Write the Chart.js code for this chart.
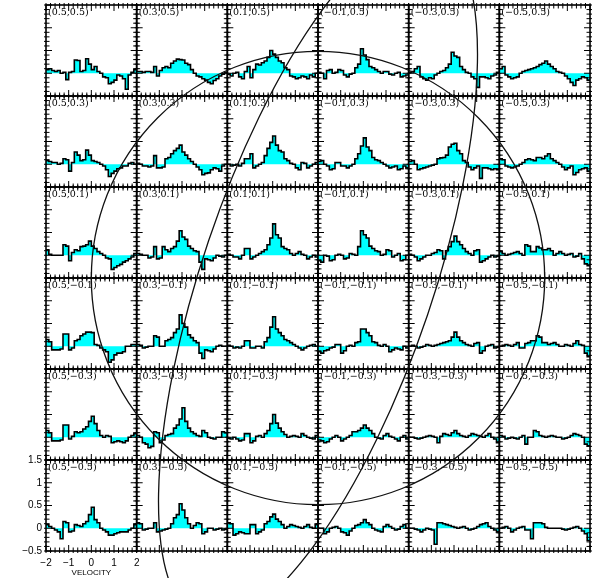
<!DOCTYPE html>
<html>
<head>
<meta charset="utf-8">
<script src="https://cdn.jsdelivr.net/npm/chart.js@4/dist/chart.umd.min.js"></script>
<style>
    body { margin: 0; background: #fff; }
    #grid { position: relative; width: 592px; height: 578px; }
    #grid canvas { position: absolute; left: 0; top: 0; }
</style>
</head>
<body>
<div id="grid"></div>
<script>
// channel edges (velocity), one more than the number of channels
const velocityEdges = [-2, -1.875, -1.75, -1.625, -1.5, -1.375, -1.25, -1.125, -1, -0.875, -0.75, -0.625, -0.5, -0.375, -0.25, -0.125,
    0, 0.125, 0.25, 0.375, 0.5, 0.625, 0.75, 0.875, 1, 1.125, 1.25, 1.375, 1.5, 1.625, 1.75, 1.875, 2]
const velocityTicks = [-2, -1, 0, 1, 2]
const intensityTicks = [-0.5, 0, 0.5, 1, 1.5]

// pointing offsets of the columns and rows
const offsetX = [0.5, 0.3, 0.1, -0.1, -0.3, -0.5]
const offsetY = [0.5, 0.3, 0.1, -0.1, -0.3, -0.5]

// spectra, one row of the map per array, columns in offsetX order
const spectraRow1 = [
    [0.08,0.1,0.06,0.04,0.06,0.0,0.02,-0.14,0.02,0.04,0.29,0.28,0.04,0.06,0.32,0.2,0.08,0.15,0.04,0.0,-0.08,-0.1,-0.23,-0.2,-0.15,-0.04,-0.06,-0.12,-0.35,-0.04,0.02,0.08],
    [0.04,0.04,0.02,0.04,0.04,0.02,0.15,-0.06,0.06,0.12,0.15,0.12,0.22,0.27,0.31,0.3,0.29,0.22,0.19,0.08,0.0,-0.06,-0.08,-0.12,-0.15,-0.2,-0.23,-0.16,-0.12,-0.06,-0.02,0.02],
    [-0.02,-0.06,0.0,0.02,-0.08,-0.12,0.04,0.15,-0.1,0.08,0.2,0.18,0.23,0.27,0.35,0.5,0.42,0.35,0.27,0.23,0.12,0.08,-0.06,-0.08,-0.12,-0.1,-0.06,-0.08,-0.12,-0.04,-0.08,0.0],
    [0.02,0.0,-0.12,0.06,0.08,0.0,0.02,0.08,0.06,-0.04,-0.08,-0.02,0.0,0.12,0.2,0.54,0.4,0.3,0.15,0.12,0.08,0.04,0.0,0.04,0.04,-0.02,-0.04,0.0,0.02,-0.08,-0.06,-0.04],
    [0.02,0.04,0.1,0.15,-0.08,-0.12,-0.15,-0.1,-0.12,-0.04,0.0,0.04,0.06,0.12,0.2,0.46,0.38,0.35,0.15,0.08,0.02,0.0,-0.08,-0.12,-0.31,-0.08,-0.08,-0.1,-0.12,-0.06,-0.04,0.02],
    [0.1,0.15,-0.04,-0.08,-0.12,-0.1,-0.08,0.0,0.04,0.06,0.08,0.1,0.12,0.15,0.19,0.22,0.27,0.2,0.15,0.1,0.04,0.02,0.0,-0.06,-0.12,-0.2,-0.27,-0.15,-0.12,-0.08,-0.1,-0.15]
]
const spectraRow2 = [
    [0.08,0.06,0.04,0.04,0.0,0.02,0.12,0.1,-0.15,0.04,0.27,0.2,0.08,0.1,0.31,0.2,0.08,0.06,0.04,0.0,-0.04,-0.12,-0.27,-0.2,-0.15,-0.1,-0.08,-0.04,-0.04,0.02,0.04,0.0],
    [0.02,0.0,-0.04,-0.04,-0.06,-0.04,0.19,-0.08,-0.08,-0.06,0.12,0.15,0.23,0.3,0.35,0.42,0.27,0.2,0.12,0.06,0.0,-0.06,-0.12,-0.23,-0.2,-0.19,-0.12,-0.08,-0.1,-0.15,-0.04,0.0],
    [0.0,-0.04,-0.02,0.0,-0.04,0.02,0.12,0.12,0.23,-0.08,-0.04,0.0,0.04,0.19,0.35,0.48,0.62,0.42,0.3,0.27,0.12,0.08,0.02,0.0,-0.08,-0.12,0.04,0.02,-0.08,-0.04,0.0,0.04],
    [0.06,0.08,0.0,-0.04,-0.12,-0.1,0.04,0.04,-0.04,-0.04,-0.08,-0.04,0.0,0.12,0.23,0.4,0.58,0.38,0.3,0.15,0.1,0.08,0.04,0.0,-0.04,-0.08,-0.06,-0.04,-0.12,-0.1,-0.04,-0.08],
    [0.06,0.08,0.0,-0.12,-0.1,-0.08,-0.06,-0.04,-0.02,0.0,0.12,0.14,0.15,0.2,0.38,0.44,0.46,0.3,0.23,0.08,0.04,-0.06,-0.12,-0.08,-0.04,-0.31,-0.08,-0.08,-0.1,-0.12,-0.1,-0.12],
    [0.12,0.1,-0.04,-0.06,-0.08,-0.06,-0.04,0.0,0.04,0.1,0.12,0.1,0.08,0.15,0.15,0.12,0.18,0.23,0.12,0.08,0.04,0.0,-0.06,-0.12,-0.08,-0.04,-0.23,-0.18,-0.12,-0.1,-0.08,-0.15]
]
const spectraRow3 = [
    [0.12,0.02,0.0,0.0,0.0,0.0,0.23,0.2,-0.12,0.06,0.12,0.1,0.19,0.2,0.23,0.31,0.2,0.15,0.08,0.04,0.0,-0.06,-0.08,-0.31,-0.27,-0.23,-0.2,-0.15,-0.12,-0.08,-0.04,0.04],
    [0.04,0.02,0.0,0.0,-0.06,-0.04,0.19,-0.08,-0.06,0.19,0.12,0.08,0.15,0.19,0.31,0.54,0.4,0.35,0.2,0.15,0.1,0.08,-0.15,-0.31,-0.08,-0.1,-0.12,-0.06,0.0,-0.02,-0.04,0.0],
    [0.02,0.0,-0.04,-0.04,-0.08,0.0,0.15,0.15,-0.08,-0.04,0.0,0.04,0.08,0.12,0.23,0.38,0.69,0.45,0.38,0.19,0.15,0.12,0.04,0.0,0.04,0.08,0.02,0.0,-0.08,-0.04,0.0,-0.04],
    [-0.12,-0.15,0.0,-0.02,-0.12,-0.1,0.0,0.02,0.0,-0.08,-0.06,0.04,0.02,0.0,0.19,0.54,0.45,0.38,0.2,0.15,0.1,0.08,0.0,0.02,0.12,0.1,-0.04,0.0,0.04,-0.12,-0.1,0.0],
    [0.02,0.0,-0.04,-0.12,-0.08,-0.04,0.0,0.0,0.04,0.06,0.12,0.1,-0.08,0.1,0.19,0.3,0.42,0.3,0.23,0.15,0.08,0.04,0.0,0.1,0.12,-0.15,-0.12,-0.08,-0.04,0.0,-0.04,-0.02],
    [0.08,0.04,0.0,0.02,0.04,0.06,0.08,0.04,0.0,0.23,0.2,0.08,0.08,0.19,0.16,0.12,0.12,0.15,0.1,0.0,0.04,0.08,0.04,0.0,0.02,0.04,-0.04,-0.02,0.04,-0.08,-0.19,-0.23]
]
const spectraRow4 = [
    [0.15,0.1,-0.08,-0.08,-0.08,-0.06,0.27,0.27,-0.08,-0.04,0.12,0.15,0.23,0.27,0.31,0.31,0.3,0.04,0.02,-0.04,-0.08,-0.12,-0.35,-0.3,-0.19,-0.15,-0.15,-0.12,0.0,0.0,0.04,0.04],
    [0.04,0.02,-0.04,-0.02,0.0,0.0,0.23,0.2,0.0,0.0,0.12,0.15,0.19,0.3,0.38,0.69,0.5,0.42,0.25,0.19,0.12,0.08,-0.15,-0.27,-0.08,-0.1,-0.12,-0.06,0.0,0.02,0.0,0.0],
    [0.02,0.0,-0.04,-0.02,-0.04,0.0,0.12,0.12,-0.04,-0.04,0.0,0.0,-0.04,0.1,0.19,0.42,0.65,0.38,0.3,0.23,0.15,0.12,0.08,0.04,0.0,-0.04,-0.08,-0.04,0.0,0.02,0.04,0.0],
    [-0.12,-0.15,-0.1,-0.08,-0.04,-0.02,0.04,0.04,-0.15,-0.1,0.0,0.02,0.0,0.08,0.1,0.38,0.38,0.3,0.23,0.1,0.08,0.02,0.0,0.04,0.0,-0.12,-0.08,-0.04,-0.06,-0.08,0.0,-0.04],
    [0.0,0.02,0.0,-0.04,-0.02,0.0,0.04,0.02,0.0,0.02,0.04,0.06,0.08,0.1,0.12,0.2,0.31,0.2,0.12,0.08,0.04,0.02,0.0,0.06,0.08,-0.15,-0.1,0.0,0.02,0.04,-0.04,-0.02],
    [0.0,0.02,0.04,0.02,0.0,0.04,0.08,-0.04,-0.04,0.06,0.08,0.12,0.12,0.23,0.2,0.08,0.08,0.04,0.06,0.08,0.04,0.0,0.0,0.04,0.02,0.0,0.06,0.12,0.04,0.02,-0.15,-0.23]
]
const spectraRow5 = [
    [0.15,0.1,-0.08,-0.08,-0.08,-0.06,0.27,0.27,-0.04,0.02,0.12,0.1,0.12,0.18,0.23,0.35,0.46,0.3,0.15,0.04,0.0,0.04,0.02,-0.12,-0.1,-0.08,-0.1,-0.12,-0.08,0.0,0.04,0.08],
    [0.04,0.0,-0.12,-0.15,-0.23,-0.2,0.12,0.1,-0.12,-0.06,0.04,0.06,0.08,0.2,0.27,0.4,0.65,0.35,0.2,0.12,0.08,0.04,0.02,0.15,0.1,0.0,-0.02,-0.04,0.0,0.0,0.12,0.1],
    [-0.02,-0.04,0.0,-0.04,-0.08,-0.06,0.08,0.08,-0.12,-0.08,0.02,0.04,0.0,0.08,0.15,0.3,0.5,0.31,0.2,0.12,0.06,0.0,0.02,0.04,0.02,0.0,0.08,0.04,0.0,-0.02,-0.04,0.04],
    [-0.06,-0.08,-0.12,-0.1,-0.04,0.0,0.04,0.0,-0.08,-0.04,0.0,0.04,0.12,0.12,0.15,0.2,0.27,0.2,0.15,0.08,0.0,-0.02,-0.04,0.04,0.08,0.02,0.0,-0.04,-0.08,0.0,0.04,-0.04],
    [0.0,0.0,-0.02,-0.04,-0.02,0.0,0.02,0.04,0.02,0.0,-0.12,0.02,0.08,0.06,0.04,0.1,0.15,0.08,0.04,0.02,0.0,0.04,0.08,0.06,0.04,0.02,0.0,0.04,0.08,0.0,-0.04,-0.12],
    [0.04,0.02,-0.04,-0.02,0.0,-0.02,-0.04,0.0,0.04,-0.15,0.0,0.0,0.15,0.12,0.04,0.02,0.0,0.02,0.04,0.02,0.0,0.0,-0.04,-0.02,0.0,0.04,0.08,0.06,0.04,0.0,-0.15,-0.19]
]
const spectraRow6 = [
    [0.08,0.04,0.0,-0.04,-0.08,-0.23,0.15,0.12,-0.08,-0.06,0.08,0.06,0.04,0.1,0.15,0.3,0.46,0.19,0.12,0.0,-0.04,-0.08,-0.15,-0.15,-0.12,-0.1,-0.08,-0.08,-0.08,-0.04,0.0,0.08],
    [0.12,0.1,-0.04,-0.02,0.0,0.0,0.12,-0.08,-0.06,-0.04,-0.02,0.0,0.1,0.23,0.3,0.54,0.4,0.23,0.1,0.0,0.06,0.12,0.1,-0.12,-0.08,0.0,0.0,-0.04,-0.02,0.0,-0.04,-0.02],
    [0.12,0.1,-0.15,-0.12,-0.08,-0.1,-0.12,-0.12,0.08,0.08,-0.12,-0.08,-0.04,0.1,0.15,0.25,0.31,0.2,0.15,0.08,0.0,0.04,0.08,0.06,0.04,0.02,0.0,0.04,0.08,0.02,0.0,0.08],
    [0.0,0.0,-0.12,-0.08,0.0,0.02,0.04,0.0,-0.08,-0.1,-0.15,-0.06,0.0,0.06,0.08,0.12,0.19,0.12,0.08,0.0,-0.04,-0.06,-0.08,0.04,0.08,0.04,0.0,-0.04,-0.02,0.04,0.08,0.0],
    [0.0,0.0,-0.02,-0.04,-0.08,-0.04,0.0,-0.02,-0.04,-0.35,0.12,0.12,0.1,0.08,0.06,0.04,0.02,0.0,0.02,0.04,0.0,-0.04,-0.02,0.0,0.04,0.08,0.1,0.12,0.04,0.0,-0.04,-0.08],
    [0.0,0.02,0.04,0.0,-0.08,-0.04,0.0,0.02,0.04,-0.04,-0.04,-0.23,0.12,0.12,0.12,0.1,0.02,0.0,0.0,0.0,0.0,0.0,-0.02,-0.04,-0.02,0.0,0.02,0.04,0.0,-0.06,-0.12,-0.27]
]
const spectra = [spectraRow1, spectraRow2, spectraRow3, spectraRow4, spectraRow5, spectraRow6]

// beam circle and source ellipse, in offset units
const beamRadius = 0.5
const ellipseMinor = 0.255
const ellipseMajor = 0.795
const ellipseTilt = 18.7

const pageW = 592, pageH = 578
const gridLeft = 46, gridTop = 5, cellW = 90.67, cellH = 91
const holder = document.getElementById("grid")

const fmt = v => String(v).replace("-", "\u2212")

let panelFrame = {
    id: "panelFrame",
    afterDraw(chart, args, opts) {
        let { ctx, chartArea: a, scales: { x, y } } = chart
        ctx.save()
        ctx.strokeStyle = "#000"
        ctx.lineWidth = 1
        ctx.beginPath()
        for (let k = 0; k <= 20; k++) {
            let px = x.getPixelForValue(-2 + k * 0.2)
            let len = k % 5 === 0 ? 6 : 3.5
            ctx.moveTo(px, a.bottom + 2); ctx.lineTo(px, a.bottom - len)
            ctx.moveTo(px, a.top - 2); ctx.lineTo(px, a.top + len)
        }
        for (let k = 0; k <= 20; k++) {
            let py = y.getPixelForValue(-0.5 + k * 0.1)
            let len = k % 5 === 0 ? 6 : 3.5
            ctx.moveTo(a.left - 2, py); ctx.lineTo(a.left + len, py)
            ctx.moveTo(a.right + 2, py); ctx.lineTo(a.right - len, py)
        }
        ctx.stroke()
        ctx.lineWidth = 1.6
        ctx.strokeRect(a.left, a.top, a.right - a.left, a.bottom - a.top)
        ctx.font = '9.5px "DejaVu Serif"'
        ctx.fillStyle = "#000"
        ctx.textBaseline = "top"
        ctx.fillText(opts.label, a.left + 2, a.top + 3)
        ctx.restore()
    }
}

let outlines = {
    id: "outlines",
    afterDraw(chart) {
        let { ctx, scales: { x, y } } = chart
        let cx = x.getPixelForValue(0), cy = y.getPixelForValue(0)
        ctx.save()
        ctx.strokeStyle = "#111"
        ctx.lineWidth = 1.3
        ctx.beginPath()
        ctx.arc(cx, cy, Math.abs(x.getPixelForValue(beamRadius) - cx), 0, 2 * Math.PI)
        ctx.stroke()
        ctx.beginPath()
        ctx.ellipse(cx, cy, Math.abs(x.getPixelForValue(ellipseMinor) - cx), Math.abs(y.getPixelForValue(ellipseMajor) - cy),
            ellipseTilt * Math.PI / 180, 0, 2 * Math.PI)
        ctx.stroke()
        ctx.restore()
    }
}

function newCanvas() {
    let c = document.createElement("canvas")
    c.width = pageW
    c.height = pageH
    holder.appendChild(c)
    return c
}

function createPanel(row, col) {
    let left = gridLeft + col * cellW
    let top = gridTop + row * cellH
    let withAxes = row === spectra.length - 1 && col === 0
    let values = spectra[row][col]
    let points = values.map((v, k) => ({ x: velocityEdges[k], y: v }))
    points.push({ x: velocityEdges[values.length], y: values[values.length - 1] })

    let tickFont = { family: "Liberation Sans", size: 10 }
    let config = {
        type: "line",
        data: {
            datasets: [{
                data: points,
                stepped: true,
                borderColor: "#000",
                borderWidth: 1.6,
                backgroundColor: "#00ffff",
                fill: "origin",
                pointRadius: 0
            }]
        },
        options: {
            responsive: false,
            animation: false,
            events: [],
            layout: {
                autoPadding: false,
                padding: {
                    left: withAxes ? 0 : left,
                    top: top,
                    right: pageW - left - cellW,
                    bottom: withAxes ? 0 : pageH - top - cellH
                }
            },
            plugins: {
                legend: { display: false },
                tooltip: { enabled: false },
                panelFrame: { label: "(" + fmt(offsetX[col].toFixed(1)) + "," + fmt(offsetY[row].toFixed(1)) + ")" }
            },
            scales: {
                x: {
                    type: "linear", min: -2, max: 2, display: withAxes,
                    grid: { display: false, drawTicks: false },
                    border: { display: false },
                    ticks: { font: tickFont, color: "#000", padding: 6, maxRotation: 0, callback: v => fmt(v) },
                    title: { display: true, text: "VELOCITY", font: { family: "Liberation Sans", size: 8 }, color: "#000", padding: 0 },
                    afterBuildTicks: s => { s.ticks = velocityTicks.map(value => ({ value })) },
                    afterFit: withAxes ? s => { s.height = pageH - gridTop - 6 * cellH } : undefined
                },
                y: {
                    type: "linear", min: -0.5, max: 1.5, display: withAxes,
                    grid: { display: false, drawTicks: false },
                    border: { display: false },
                    ticks: { font: tickFont, color: "#000", padding: 4, callback: v => fmt(v) },
                    afterBuildTicks: s => { s.ticks = intensityTicks.map(value => ({ value })) },
                    afterFit: withAxes ? s => { s.width = gridLeft } : undefined
                }
            }
        },
        plugins: [panelFrame]
    }
    new Chart(newCanvas(), config)
}

for (let r = 0; r < spectra.length; r++) {
    for (let c = 0; c < spectra[r].length; c++) {
        createPanel(r, c)
    }
}

// circle and ellipse drawn over the whole map in offset coordinates
new Chart(newCanvas(), {
    type: "scatter",
    data: { datasets: [] },
    options: {
        responsive: false,
        animation: false,
        events: [],
        layout: {
            autoPadding: false,
            padding: { left: gridLeft, top: gridTop, right: pageW - gridLeft - 6 * cellW, bottom: pageH - gridTop - 6 * cellH }
        },
        plugins: { legend: { display: false }, tooltip: { enabled: false } },
        scales: {
            x: { type: "linear", min: -0.6, max: 0.6, reverse: true, display: false },
            y: { type: "linear", min: -0.6, max: 0.6, display: false }
        }
    },
    plugins: [outlines]
})
</script>
</body>
</html>
